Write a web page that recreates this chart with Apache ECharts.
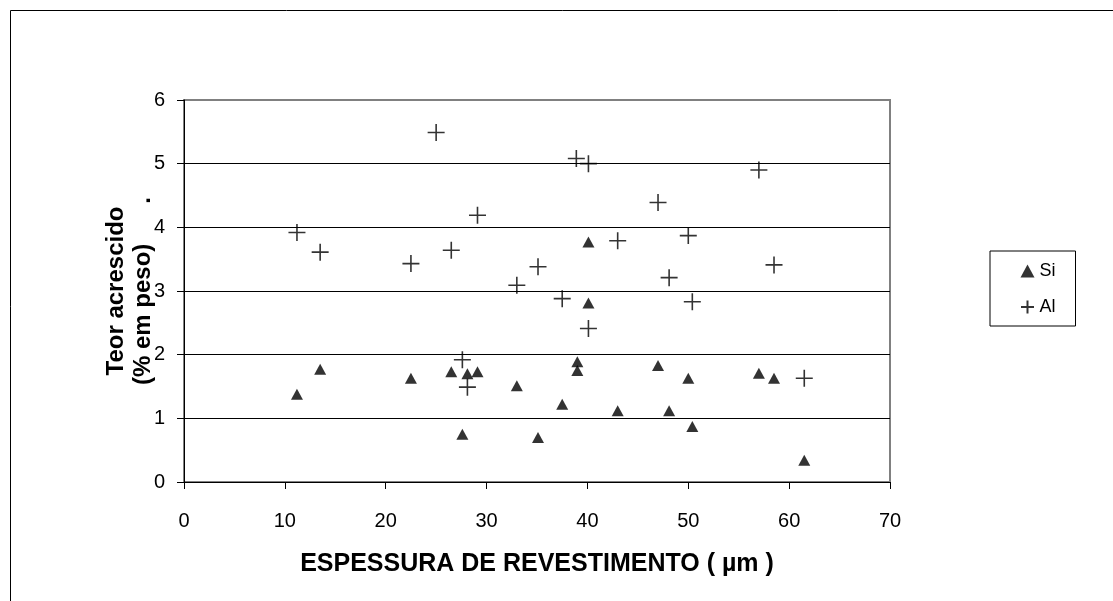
<!DOCTYPE html>
<html><head><meta charset="utf-8">
<script src="https://cdn.jsdelivr.net/npm/echarts@6/dist/echarts.min.js"></script>
<style>html,body{margin:0;padding:0;background:#fff}#c{width:1113px;height:601px}</style>
</head><body><div id="c"></div>
<script>
// Thickness (µm) and added content (% wt)
const siX = [11.2, 13.5, 22.5, 26.5, 27.6, 28.1, 29.1, 33.0, 35.1, 37.5, 39.0, 39.0, 40.1, 40.1, 43.0, 47.0, 48.1, 50.0, 50.4, 57.0, 58.5, 61.5];
const siY = [1.38, 1.77, 1.63, 1.73, 0.75, 1.70, 1.73, 1.51, 0.70, 1.22, 1.89, 1.75, 3.77, 2.81, 1.12, 1.83, 1.12, 1.63, 0.87, 1.71, 1.63, 0.34];
const alX = [11.2, 13.5, 22.5, 25.0, 26.5, 27.6, 28.1, 29.1, 33.0, 35.1, 37.5, 38.9, 40.1, 40.1, 43.0, 47.0, 48.1, 50.0, 50.4, 57.0, 58.5, 61.5];
const alY = [3.92, 3.61, 3.43, 5.49, 3.64, 1.92, 1.49, 4.19, 3.09, 3.38, 2.88, 5.08, 5.00, 2.41, 3.79, 4.39, 3.21, 3.87, 2.83, 4.90, 3.41, 1.63];
const seriesNames = ['Si', 'Al'];
const xTitle = 'ESPESSURA DE REVESTIMENTO ( \u00b5m )';
const yTitle = 'Teor acrescido\n(% em peso)      .';

const font = 'Arial, "Liberation Sans", sans-serif';
const chart = echarts.init(document.getElementById('c'), null, {renderer: 'canvas'});
const zip = (a, b) => a.map((v, i) => [v, b[i]]);
chart.setOption({
  animation: false,
  backgroundColor: '#fff',
  graphic: [{
    type: 'rect', shape: {x: 10.5, y: 10.5, width: 1200, height: 700},
    style: {fill: 'none', stroke: '#000', lineWidth: 1}, silent: true, z: -1
  }],
  grid: {left: 184, top: 100, right: 223, bottom: 119, show: true, borderColor: '#808080', borderWidth: 2, backgroundColor: 'transparent'},
  legend: {
    orient: 'vertical', left: 990, top: 251,
    padding: [11, 20, 10, 30], itemGap: 18,
    borderColor: '#000', borderWidth: 1, backgroundColor: '#fff',
    itemWidth: 14, itemHeight: 13,
    textStyle: {fontFamily: font, fontSize: 18, color: '#000'},
    data: seriesNames
  },
  xAxis: {
    type: 'value', min: 0, max: 70, interval: 10,
    name: xTitle, nameLocation: 'middle', nameGap: 70, nameMoveOverlap: false,
    nameTextStyle: {fontFamily: font, fontSize: 25, fontWeight: 'bold', color: '#000'},
    axisLine: {lineStyle: {color: '#000', width: 1}},
    axisTick: {show: true, length: 7, lineStyle: {color: '#000'}},
    axisLabel: {fontFamily: font, fontSize: 20, color: '#000', margin: 29},
    splitLine: {show: false}
  },
  yAxis: {
    type: 'value', min: 0, max: 6, interval: 1,
    name: yTitle, nameLocation: 'middle', nameGap: 27, nameRotate: 90, nameMoveOverlap: false,
    nameTextStyle: {fontFamily: font, fontSize: 24, fontWeight: 'bold', color: '#000', lineHeight: 27, align: 'center'},
    axisLine: {show: true, lineStyle: {color: '#000', width: 1}},
    axisTick: {show: true, length: 7, lineStyle: {color: '#000'}},
    axisLabel: {fontFamily: font, fontSize: 20, color: '#000', margin: 19},
    splitLine: {show: true, showMaxLine: false, lineStyle: {color: '#000', width: 1}}
  },
  series: [{
    name: seriesNames[0], type: 'scatter', symbol: 'triangle', symbolSize: [12, 11],
    itemStyle: {color: '#000'}, data: zip(siX, siY)
  }, {
    name: seriesNames[1], type: 'scatter', symbol: 'path://M0,-8L0,8M-8,0L8,0', symbolSize: 17,
    itemStyle: {color: 'rgba(0,0,0,0)', borderColor: '#000', borderWidth: 1.6}, data: zip(alX, alY)
  }]
});
</script></body></html>
